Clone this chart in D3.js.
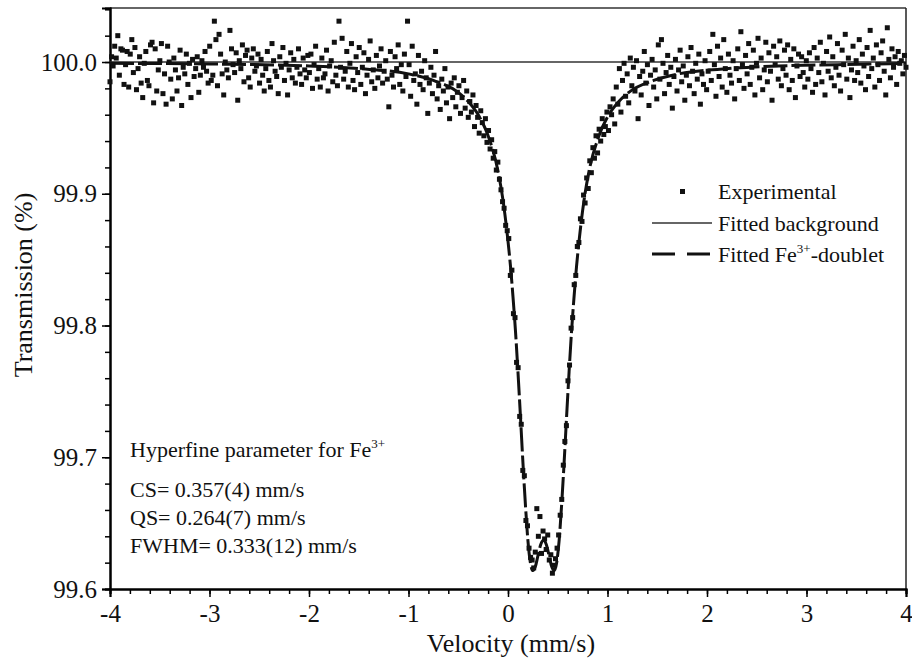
<!DOCTYPE html>
<html>
<head>
<meta charset="utf-8">
<script src="https://cdn.jsdelivr.net/npm/d3@7"></script>
<style>
  body { margin: 0; background: #fff; }
  text { font-family: "Liberation Serif", "Times New Roman", serif; fill: #111; }
</style>
</head>
<body>
<div id="chart"></div>
<script>
// experimental spectrum, 512 channels from -4 to +4 mm/s
let expT = [
  99.985, 100.004, 99.997, 100.012, 100.003, 100.020, 99.990, 100.010, 100.009, 99.983, 99.998, 100.008, 99.981, 100.006, 100.017, 99.992,
  100.011, 99.979, 99.995, 100.004, 99.984, 99.973, 99.999, 100.008, 99.986, 99.982, 100.013, 100.015, 99.969, 100.010, 99.978, 99.994,
  100.001, 100.014, 99.976, 99.991, 99.968, 100.012, 100.000, 99.987, 99.972, 100.003, 99.994, 99.978, 99.988, 100.009, 99.967, 99.996,
  99.991, 100.006, 99.983, 99.999, 99.973, 100.002, 99.989, 99.995, 100.004, 99.977, 99.990, 100.001, 99.996, 100.008, 99.993, 99.984,
  100.012, 99.986, 99.990, 100.031, 100.017, 99.982, 100.021, 100.006, 99.991, 99.975, 100.000, 99.994, 99.988, 100.024, 100.010, 99.998,
  99.992, 100.007, 99.971, 100.001, 99.995, 100.013, 99.985, 100.005, 100.009, 99.988, 99.981, 100.003, 100.010, 99.993, 99.997, 100.006,
  99.984, 100.002, 99.990, 99.978, 99.995, 100.008, 99.986, 99.981, 100.014, 100.001, 99.993, 99.989, 99.976, 100.004, 99.996, 100.011,
  99.986, 99.999, 99.975, 99.994, 100.007, 99.988, 100.002, 99.984, 99.996, 100.010, 99.991, 99.983, 100.003, 99.994, 99.988, 100.005,
  99.992, 100.006, 99.980, 99.998, 100.012, 99.987, 99.995, 99.981, 100.003, 99.988, 99.991, 100.009, 99.978, 99.997, 100.001, 99.985,
  100.015, 99.990, 99.982, 100.031, 99.996, 100.018, 99.987, 99.993, 100.008, 99.981, 99.999, 100.014, 99.986, 99.979, 100.004, 99.992,
  100.011, 99.983, 99.996, 100.007, 99.976, 99.990, 100.002, 100.016, 99.985, 99.994, 99.980, 100.005, 99.988, 99.997, 100.010, 99.984,
  99.993, 100.001, 99.987, 99.966, 100.008, 99.990, 99.981, 100.004, 99.995, 100.013, 99.983, 99.998, 99.978, 100.006, 99.989, 100.031,
  99.998, 99.974, 100.012, 99.986, 99.991, 99.968, 100.005, 99.983, 99.993, 99.979, 100.001, 99.988, 99.961, 99.984, 99.996, 99.976,
  99.990, 100.008, 99.972, 99.982, 99.964, 99.987, 99.978, 99.995, 99.969, 99.981, 99.957, 99.984, 99.973, 99.988, 99.966, 99.977,
  99.982, 99.961, 99.973, 99.986, 99.965, 99.978, 99.958, 99.970, 99.962, 99.975, 99.951, 99.967, 99.958, 99.946, 99.963, 99.954,
  99.944, 99.957, 99.939, 99.948, 99.934, 99.941, 99.927, 99.932, 99.918, 99.924, 99.911, 99.903, 99.894, 99.889, 99.876, 99.872,
  99.866, 99.838, 99.842, 99.809, 99.806, 99.772, 99.768, 99.731, 99.725, 99.690, 99.686, 99.652, 99.648, 99.631, 99.624, 99.622,
  99.616, 99.628, 99.661, 99.640, 99.655, 99.627, 99.644, 99.638, 99.630, 99.641, 99.622, 99.626, 99.612, 99.618, 99.623, 99.631,
  99.641, 99.656, 99.668, 99.694, 99.712, 99.724, 99.758, 99.770, 99.798, 99.806, 99.831, 99.838, 99.860, 99.863, 99.881, 99.879,
  99.899, 99.893, 99.912, 99.904, 99.925, 99.916, 99.935, 99.927, 99.944, 99.931, 99.949, 99.940, 99.957, 99.945, 99.951, 99.962,
  99.948, 99.966, 99.960, 99.972, 99.953, 99.981, 99.968, 99.995, 99.962, 99.986, 99.999, 99.974, 99.991, 99.969, 100.003, 99.982,
  99.996, 99.978, 100.001, 99.957, 99.989, 99.975, 99.993, 100.008, 99.984, 99.998, 99.967, 99.990, 100.002, 99.981, 99.994, 99.972,
  100.013, 99.987, 100.017, 99.999, 99.976, 99.992, 100.005, 99.983, 99.996, 99.965, 99.989, 100.002, 99.978, 99.994, 100.009, 99.985,
  99.997, 99.971, 99.990, 100.004, 99.982, 100.011, 99.993, 99.976, 99.999, 99.987, 100.006, 99.968, 99.991, 99.983, 100.001, 99.979,
  99.993, 100.008, 99.986, 100.021, 99.998, 99.974, 100.012, 99.989, 100.003, 99.981, 100.017, 99.995, 99.977, 100.006, 99.990, 99.984,
  100.001, 99.972, 99.995, 100.010, 99.986, 100.023, 99.998, 99.980, 100.005, 99.991, 100.014, 99.983, 99.996, 100.009, 99.975, 99.999,
  100.018, 99.988, 100.003, 99.979, 99.994, 100.015, 99.985, 100.007, 99.993, 99.971, 100.012, 99.998, 100.004, 99.987, 100.016, 99.982,
  99.995, 100.009, 99.990, 100.013, 99.979, 100.002, 99.986, 100.010, 99.973, 99.997, 100.006, 99.989, 100.004, 99.992, 99.981, 100.001,
  99.987, 100.007, 99.995, 99.977, 100.011, 99.983, 100.003, 99.992, 100.015, 99.985, 99.999, 99.975, 100.008, 99.993, 100.019, 99.988,
  100.004, 99.982, 99.996, 100.014, 99.990, 99.978, 100.009, 99.998, 100.021, 99.987, 100.003, 99.973, 99.994, 100.012, 99.986, 100.001,
  99.992, 100.017, 99.984, 100.006, 99.997, 99.979, 100.011, 99.989, 100.024, 99.995, 100.003, 99.981, 100.013, 99.998, 99.986, 100.007,
  100.016, 99.993, 99.975, 100.026, 100.002, 99.988, 100.010, 99.996, 100.004, 99.983, 100.008, 99.999, 100.001, 99.991, 100.005, 99.996
];
let velMin = -4, velMax = 4;

// fitted Fe3+ doublet
let fitV = [-4, -3, -2, -1.5, -1, -0.75, -0.5, -0.4, -0.3, -0.2, -0.1, -0.05, 0, 0.025, 0.05, 0.075, 0.1, 0.125, 0.15, 0.175, 0.2, 0.225, 0.25, 0.275, 0.3, 0.33, 0.357,
  0.384, 0.414, 0.439, 0.464, 0.489, 0.514, 0.539, 0.564, 0.589, 0.614, 0.639, 0.664, 0.689, 0.714, 0.764, 0.814, 0.914, 1.014, 1.114, 1.214, 1.464, 1.714, 2.214, 2.714, 3.714, 4];
let fitT = [99.999, 99.9985, 99.997, 99.995, 99.991, 99.986, 99.977, 99.970, 99.960, 99.944, 99.917, 99.895, 99.864, 99.845, 99.822, 99.796, 99.765, 99.731, 99.696, 99.664, 99.637, 99.620, 99.614, 99.617, 99.625, 99.634, 99.637,
  99.634, 99.625, 99.617, 99.614, 99.620, 99.637, 99.664, 99.696, 99.731, 99.765, 99.796, 99.822, 99.845, 99.864, 99.895, 99.917, 99.944, 99.960, 99.970, 99.977, 99.986, 99.991, 99.995, 99.997, 99.9985, 99.999];

let bgV = [-4, 4];
let bgT = [100.0, 100.0];

let xTicks = [-4, -3, -2, -1, 0, 1, 2, 3, 4];
let yTicks = [99.6, 99.7, 99.8, 99.9, 100.0];

let paramLines = ["CS= 0.357(4) mm/s", "QS= 0.264(7) mm/s", "FWHM= 0.333(12) mm/s"];
let legendLabels = ["Experimental", "Fitted background", "Fitted Fe"];

let svg = d3.select("#chart")
    .append("svg")
    .attr("width", 912)
    .attr("height", 659);

let x = d3.scaleLinear().domain([velMin, velMax]).range([110, 906]);
let y = d3.scaleLinear().domain([99.6, 100.041]).range([589, 8]);

let expData = expT.map((t, i) => ({v: velMin + (velMax - velMin) * i / (expT.length - 1), t: t}));
let fitData = fitV.map((v, i) => ({v: v, t: fitT[i]}));
let bgData = bgV.map((v, i) => ({v: v, t: bgT[i]}));

// frame top / right
svg.append("line").attr("x1", 110).attr("x2", 906).attr("y1", 8).attr("y2", 8)
    .attr("stroke", "#333").attr("stroke-width", 1.5);
svg.append("line").attr("x1", 906).attr("x2", 906).attr("y1", 8).attr("y2", 589)
    .attr("stroke", "#222").attr("stroke-width", 1.5);

// x axis
let xAxis = svg.append("g")
    .attr("transform", "translate(0,589)")
    .call(d3.axisBottom(x).tickValues(d3.range(-4, 4.01, 0.2)).tickSize(5).tickFormat(""));
xAxis.selectAll(".tick line").attr("stroke-width", 1.5);
let xMajor = svg.append("g")
    .attr("transform", "translate(0,589)")
    .call(d3.axisBottom(x).tickValues(xTicks).tickSize(8).tickPadding(7).tickFormat(d => String(d)));
xMajor.selectAll(".tick line").attr("stroke-width", 1.5);
xMajor.selectAll("text").style("font-size", "25px").style("font-family", "Liberation Serif").attr("fill", "#111");
svg.selectAll(".domain").attr("stroke-width", 2);

// y axis
let yMinor = svg.append("g")
    .attr("transform", "translate(110,0)")
    .call(d3.axisLeft(y).tickValues(d3.range(99.6, 100.041, 0.02)).tickSize(5).tickFormat(""));
yMinor.selectAll(".tick line").attr("stroke-width", 1.5);
let yMajor = svg.append("g")
    .attr("transform", "translate(110,0)")
    .call(d3.axisLeft(y).tickValues(yTicks).tickSize(8).tickPadding(5).tickFormat(d3.format(".1f")));
yMajor.selectAll(".tick line").attr("stroke-width", 1.5);
yMajor.selectAll("text").style("font-size", "25px").style("font-family", "Liberation Serif").attr("fill", "#111");
svg.selectAll(".domain").attr("stroke-width", 2);

// background line
svg.append("path")
    .datum(bgData)
    .attr("fill", "none")
    .attr("stroke", "#333")
    .attr("stroke-width", 1.5)
    .attr("d", d3.line().x(d => x(d.v)).y(d => y(d.t)));

// experimental points
svg.append("g")
    .selectAll("rect")
    .data(expData)
    .join("rect")
    .attr("x", d => x(d.v) - 2.5)
    .attr("y", d => y(d.t) - 2.5)
    .attr("width", 5)
    .attr("height", 5)
    .attr("fill", "#111");

// fitted doublet
svg.append("path")
    .datum(fitData)
    .attr("fill", "none")
    .attr("stroke", "#111")
    .attr("stroke-width", 3)
    .attr("stroke-dasharray", "24,4")
    .attr("d", d3.line().curve(d3.curveMonotoneX).x(d => x(d.v)).y(d => y(d.t)));

// axis titles
svg.append("text")
    .attr("x", 511)
    .attr("y", 652)
    .attr("text-anchor", "middle")
    .style("font-size", "26px")
    .text("Velocity (mm/s)");
svg.append("text")
    .attr("transform", "translate(32,285) rotate(-90)")
    .attr("text-anchor", "middle")
    .style("font-size", "26px")
    .text("Transmission (%)");

// hyperfine parameters
let hyp = svg.append("text")
    .attr("x", 130)
    .attr("y", 457)
    .style("font-size", "22px");
hyp.append("tspan").text("Hyperfine parameter for Fe");
hyp.append("tspan").attr("dy", -9).style("font-size", "13px").text("3+");
svg.selectAll(".param")
    .data(paramLines)
    .join("text")
    .attr("class", "param")
    .attr("x", 130)
    .attr("y", (d, i) => 497 + i * 28)
    .style("font-size", "22px")
    .text(d => d);

// legend
let leg = svg.append("g");
leg.append("rect").attr("x", 680).attr("y", 189).attr("width", 5).attr("height", 5).attr("fill", "#111");
leg.append("line").attr("x1", 652).attr("x2", 712).attr("y1", 223).attr("y2", 223)
    .attr("stroke", "#333").attr("stroke-width", 1.5);
leg.append("line").attr("x1", 652).attr("x2", 712).attr("y1", 254).attr("y2", 254)
    .attr("stroke", "#111").attr("stroke-width", 3).attr("stroke-dasharray", "23,12");
leg.selectAll(".lg")
    .data(legendLabels)
    .join("text")
    .attr("class", "lg")
    .attr("x", 718)
    .attr("y", (d, i) => 199 + i * 31.5)
    .style("font-size", "22px")
    .text(d => d);
leg.selectAll(".lg").filter((d, i) => i == 2).each(function() {
    let t = d3.select(this);
    t.append("tspan").attr("dy", -9).style("font-size", "13px").text("3+");
    t.append("tspan").attr("dy", 9).text("-doublet");
});
</script>
</body>
</html>
